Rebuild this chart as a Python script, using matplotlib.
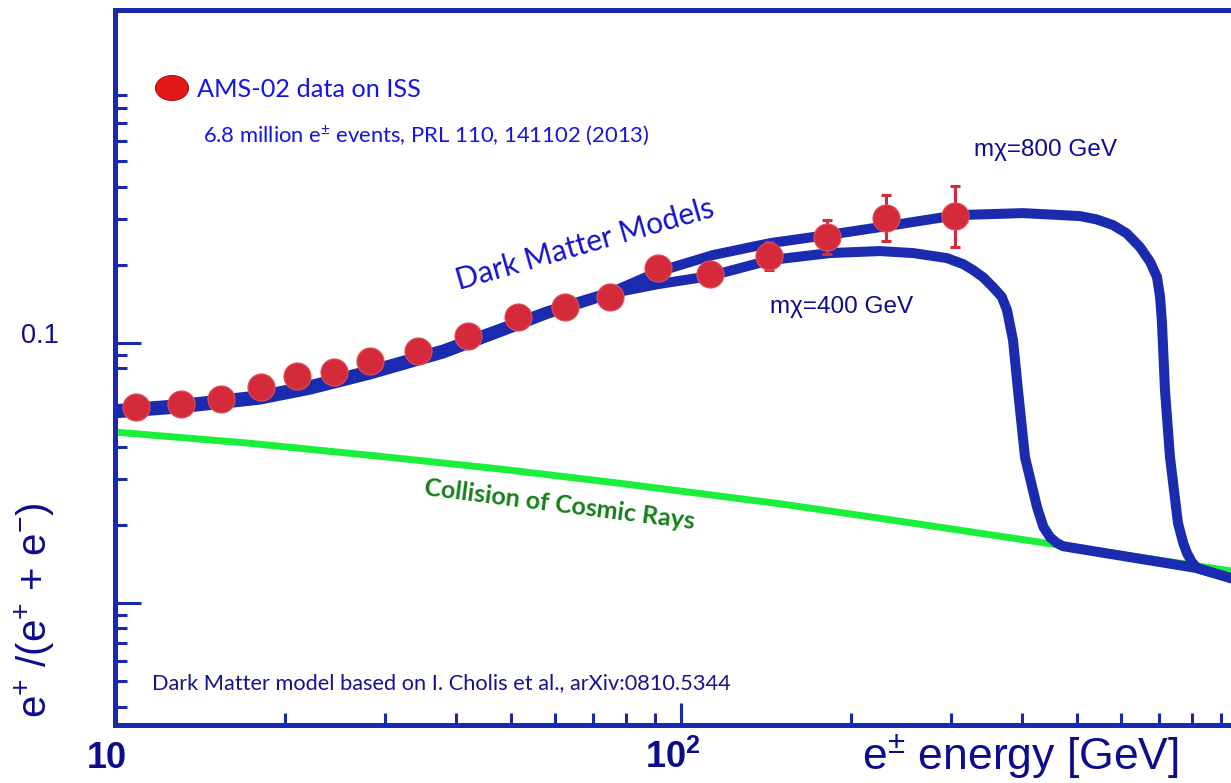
import numpy as np
import matplotlib.pyplot as plt
import matplotlib.transforms as mtransforms
from matplotlib import font_manager as fm
from matplotlib.patches import Ellipse

# -----------------------------
# Data
# -----------------------------
# AMS-02 positron fraction
ams_energy = [10.9, 13.1, 15.4, 18.1, 21.0, 24.4, 28.2, 34.3, 42.0, 51.5,
              62.4, 74.9, 91.1, 112.5, 143.1, 181.1, 230.2, 304.8]
ams_frac = [0.0567, 0.0582, 0.0609, 0.0677, 0.0746, 0.0774, 0.0852, 0.0932, 0.1064, 0.1259,
            0.1376, 0.1503, 0.1943, 0.1842, 0.2161, 0.2556, 0.3025, 0.3080]
nan = np.nan
ams_err_lo = [nan] * 14 + [0.1909, 0.2200, 0.2467, 0.2340]
ams_err_hi = [nan] * 14 + [0.2446, 0.2972, 0.3709, 0.4017]

# secondary positrons from cosmic ray collisions
cr_energy = [10.0, 17.3, 29.4, 47.9, 78.0, 149.7, 225.0, 468.0, 937.0]
cr_frac = [0.0455, 0.0412, 0.0367, 0.0328, 0.0289, 0.0241, 0.0212, 0.0167, 0.0133]

# dark matter models
dm800_energy = [10.0, 12.9, 18.0, 22.1, 28.2, 38.0, 49.9, 58.0, 75.9, 91.8,
                113.9, 143.7, 181.1, 231.2, 307.3, 401.9, 506.8, 542.6, 579.9, 613.0,
                647.1, 674.1, 693.4, 702.1, 707.6, 716.3, 731.1, 755.2, 771.9, 783.4,
                798.6, 816.0, 936.9]
dm800_frac = [0.0557, 0.0582, 0.0630, 0.0689, 0.0787, 0.0945, 0.1175, 0.1325, 0.1580, 0.1892,
              0.2181, 0.2424, 0.2602, 0.2818, 0.3106, 0.3162, 0.3080, 0.2990, 0.2843, 0.2642,
              0.2340, 0.2055, 0.1794, 0.1507, 0.1194, 0.0659, 0.0364, 0.0203, 0.01697, 0.01557,
              0.01441, 0.01364, 0.01248]

dm400_energy = [10.0, 12.9, 18.0, 22.1, 28.2, 38.0, 49.9, 58.0, 75.9, 91.1,
                112.5, 143.7, 183.3, 224.7, 257.0, 295.1, 315.3, 328.1, 342.0, 355.8,
                368.7, 376.7, 386.0, 393.9, 405.3, 425.6, 436.7, 448.7, 461.1, 473.1,
                816.0, 936.9]
dm400_frac = [0.0537, 0.0560, 0.0606, 0.0662, 0.0757, 0.0912, 0.1140, 0.1295, 0.1560, 0.1686,
              0.1810, 0.2086, 0.2220, 0.2259, 0.2220, 0.2123, 0.2012, 0.1909, 0.1790, 0.1642,
              0.1507, 0.1339, 0.1027, 0.0659, 0.0364, 0.0234, 0.01966, 0.01794, 0.01705, 0.01656,
              0.01364, 0.01248]

# axis ticks
x_major = [10, 100]
x_major_labels = ['10', r'$\mathbf{10^2}$']
x_minor = [20, 30, 40, 50, 60, 70, 80, 90, 200, 300, 400, 500, 600, 700, 800, 900]
y_major = [0.01, 0.1]
y_minor = [0.004, 0.005, 0.006, 0.007, 0.008, 0.009, 0.02, 0.03, 0.04, 0.08, 0.09,
           0.2, 0.3, 0.4, 0.5, 0.6, 0.7, 0.8, 0.9]

# -----------------------------
# Style
# -----------------------------
plt.rcParams['mathtext.fontset'] = 'custom'
plt.rcParams['mathtext.rm'] = 'Liberation Sans'
plt.rcParams['mathtext.it'] = 'Liberation Sans:italic'
plt.rcParams['mathtext.bf'] = 'Liberation Sans:bold'
plt.rcParams['mathtext.default'] = 'regular'


def has_font(name):
    try:
        fm.findfont(fm.FontProperties(family=name), fallback_to_default=False)
        return True
    except ValueError:
        return False


narrow = 'Liberation Sans Narrow' if has_font('Liberation Sans Narrow') else 'Liberation Sans'
soft = 'Lato'

axis_blue = '#1a2aae'
line_blue = '#1b2bb0'
navy = '#0c0c8c'
bright_blue = '#1414e6'
red = '#d42a3a'
green = '#19f03a'

W, H = 1231, 783
fig = plt.figure(figsize=(W / 100, H / 100), dpi=100)
ax = fig.add_axes([115 / W, (H - 725) / H, (W - 115) / W, (725 - 10) / H])
ax.set_xscale('log')
ax.set_yscale('log')
ax.set_xlim(10, 937)
ax.set_ylim(0.0034, 1.91)

# -----------------------------
# Curves and points
# -----------------------------
ax.plot(cr_energy, cr_frac, color=green, lw=5, solid_capstyle='butt',
        solid_joinstyle='round', zorder=2)
ax.plot(dm400_energy, dm400_frac, color=line_blue, lw=7.2, solid_joinstyle='round', zorder=3)
ax.plot(dm800_energy, dm800_frac, color=line_blue, lw=7.2, solid_joinstyle='round', zorder=3)

ams_frac_a = np.array(ams_frac)
yerr = [ams_frac_a - np.array(ams_err_lo), np.array(ams_err_hi) - ams_frac_a]
ax.errorbar(ams_energy, ams_frac, yerr=yerr, fmt='none', ecolor=red, elinewidth=2.2,
            capsize=3.6, capthick=2.2, zorder=4)
ax.plot(ams_energy, ams_frac, 'o', ms=19.5, color=red, mec='#e0505a', mew=0.8, zorder=5)

# -----------------------------
# Axes
# -----------------------------
for side in ['left', 'bottom', 'top']:
    ax.spines[side].set_color(axis_blue)
    ax.spines[side].set_linewidth(3.6)
ax.spines['right'].set_visible(False)

ax.set_xticks(x_major)
ax.set_xticks(x_minor, minor=True)
ax.set_yticks(y_major)
ax.set_yticks(y_minor, minor=True)
ax.set_xticklabels([])
ax.set_yticklabels([])
ax.set_xticklabels([], minor=True)
ax.set_yticklabels([], minor=True)
ax.tick_params(which='both', direction='in', color=axis_blue, width=2.2,
               top=False, right=False)
ax.tick_params(axis='y', which='major', length=19)
ax.tick_params(axis='x', which='major', length=16)
ax.tick_params(which='minor', length=8.5)

# tick labels drawn by hand so they can sit like in the original
xlab_tr = mtransforms.offset_copy(ax.get_xaxis_transform(), fig, x=-8, y=0, units='dots')
for xv, lab in zip(x_major, x_major_labels):
    ax.text(xv, -0.06, lab, transform=xlab_tr, ha='center', va='baseline',
            fontsize=26, fontweight='bold', family='Liberation Sans', color=navy)
ax.text(-0.0672, 0.1, '0.1', transform=ax.get_yaxis_transform(), ha='center',
        va='baseline', fontsize=19.5, family='Liberation Sans', color=navy)

# axis titles
fig.text(1020 / W, 1 - 770 / H, r'e$^{\pm}$ energy [GeV]', ha='center', va='baseline',
         fontsize=32, family='Liberation Sans', color=navy)
fig.text(35 / W, 1 - 610 / H, r'e$^{+}$ /(e$^{+}$ + e$^{-}$)', ha='center', va='center',
         rotation=90, fontsize=29, family='Liberation Sans', color=navy)

# -----------------------------
# Annotations
# -----------------------------
fig.patches.append(Ellipse((172 / W, 1 - 88 / H), 33 / W, 25 / H, transform=fig.transFigure,
                           facecolor='#e31818', edgecolor='#b01515', lw=0.8))
fig.text(197 / W, 1 - 97 / H, 'AMS-02 data on ISS', ha='left', va='baseline',
         fontsize=18.2, family=soft, color=bright_blue)
fig.text(203 / W, 1 - 142 / H, r'6.8 million e$^{\pm}$ events, PRL 110, 141102 (2013)',
         ha='left', va='baseline', fontsize=15.8, family=soft, color=bright_blue)
fig.text(585 / W, 1 - 245 / H, 'Dark Matter Models', ha='center', va='center',
         rotation=16, rotation_mode='anchor', fontsize=21.5, family=soft, color='#1212c8')
fig.text(560 / W, 1 - 505 / H, 'Collision of Cosmic Rays', ha='center', va='center',
         rotation=-7.2, rotation_mode='anchor', fontsize=18, fontweight='bold',
         family=soft, color='#15801a')
fig.text(1045 / W, 1 - 150 / H, 'm\u03c7=800 GeV', ha='center', va='center',
         fontsize=17.5, family=narrow, color=navy)
fig.text(842 / W, 1 - 307 / H, 'm\u03c7=400 GeV', ha='center', va='center',
         fontsize=17.5, family=narrow, color=navy)
fig.text(152 / W, 1 - 689 / H, 'Dark Matter model based on I. Cholis et al., arXiv:0810.5344',
         ha='left', va='baseline', fontsize=15.7, family=soft, color='#14148c')

fig.savefig('out.png', dpi=100)
